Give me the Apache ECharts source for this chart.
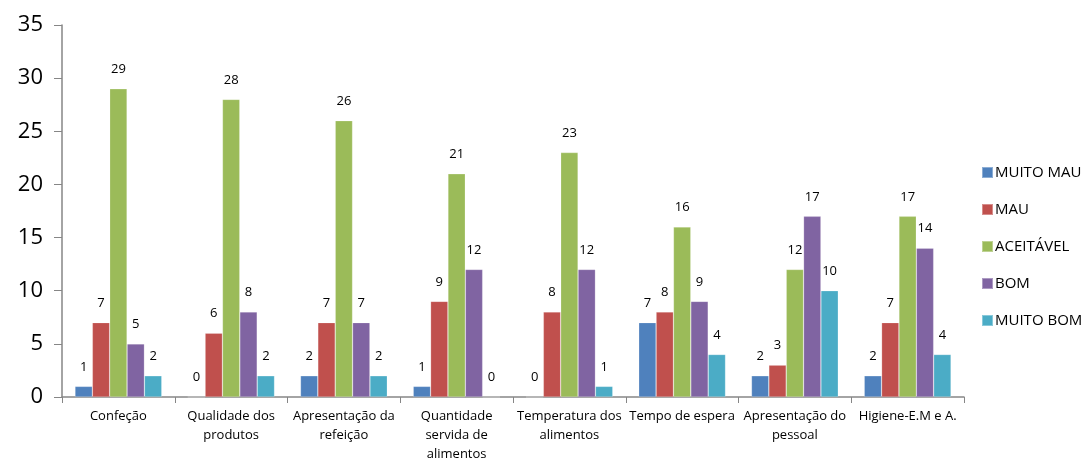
<!DOCTYPE html>
<html>
<head>
<meta charset="utf-8">
<script src="https://cdn.jsdelivr.net/npm/echarts@6/dist/echarts.min.js"></script>
<style>
  html, body { margin: 0; padding: 0; background: #fff; }
  #chart { width: 1089px; height: 464px; }
</style>
</head>
<body>
<div id="chart"></div>
<script>
// Survey categories (line breaks mark how each label wraps under the axis)
const categories = [
  'Confeção',
  'Qualidade dos\nprodutos',
  'Apresentação da\nrefeição',
  'Quantidade\nservida de\nalimentos',
  'Temperatura dos\nalimentos',
  'Tempo de espera',
  'Apresentação do\npessoal',
  'Higiene-E.M e A.'
];

const muitoMau  = [1, 0, 2, 1, 0, 7, 2, 2];
const mau       = [7, 6, 7, 9, 8, 8, 3, 7];
const aceitavel = [29, 28, 26, 21, 23, 16, 12, 17];
const bom       = [5, 8, 7, 12, 12, 9, 17, 14];
const muitoBom  = [2, 2, 2, 0, 1, 4, 10, 4];

const seriesNames = ['MUITO MAU', 'MAU', 'ACEITÁVEL', 'BOM', 'MUITO BOM'];
const seriesData = [muitoMau, mau, aceitavel, bom, muitoBom];
const colors = ['#4F81BD', '#C0504D', '#9BBB59', '#8064A2', '#4BACC6'];

const font = '"Open Sans", Lato, sans-serif';

const chart = echarts.init(document.getElementById('chart'), null, { renderer: 'canvas' });

chart.setOption({
  animation: false,
  color: colors,
  grid: { left: 62, right: 125, top: 25, bottom: 64, containLabel: false },
  legend: {
    orient: 'vertical',
    left: 976,
    top: 160,
    itemWidth: 11,
    itemHeight: 11,
    itemGap: 22,
    icon: 'rect',
    textStyle: { fontFamily: font, fontSize: 15, color: '#000', padding: [0, 0, 0, -3] },
    data: seriesNames
  },
  xAxis: {
    type: 'category',
    data: categories,
    axisLine: { lineStyle: { color: '#868686', width: 1.5 } },
    axisTick: { show: true, alignWithLabel: false, length: 6, lineStyle: { color: '#868686' } },
    axisLabel: {
      interval: 0,
      margin: 10,
      fontFamily: font,
      fontSize: 13,
      lineHeight: 19,
      color: '#000'
    }
  },
  yAxis: {
    type: 'value',
    min: 0,
    max: 35,
    interval: 5,
    splitLine: { show: false },
    axisLine: { show: true, lineStyle: { color: '#868686', width: 1.5 } },
    axisTick: { show: true, length: 8, lineStyle: { color: '#868686' } },
    axisLabel: { fontFamily: font, fontSize: 22, color: '#000', margin: 19 }
  },
  series: seriesNames.map((name, i) => ({
    name: name,
    type: 'bar',
    data: seriesData[i],
    barGap: '0%',
    barCategoryGap: '23%',
    itemStyle: { color: colors[i], borderColor: 'rgba(255,255,255,0.35)', borderWidth: 0.6 },
    label: {
      show: true,
      position: 'top',
      distance: 13,
      fontFamily: font,
      fontSize: 13,
      color: '#000'
    }
  }))
});
</script>
</body>
</html>
